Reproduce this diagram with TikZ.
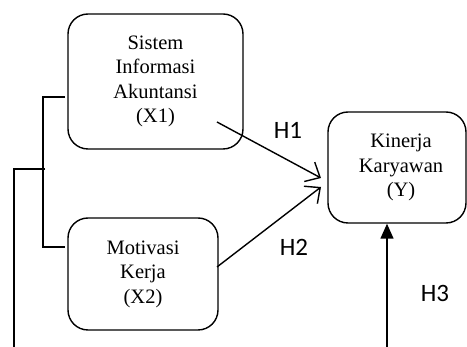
\documentclass[tikz,border=0pt]{standalone}
\usepackage{fontspec}
\setmainfont{Liberation Serif}
\newfontfamily\hfont{Carlito}
\usetikzlibrary{arrows.meta}
\begin{document}
\begin{tikzpicture}[x=1pt,y=-1pt,line width=1.4pt,
  varbox/.style={draw,rounded corners=20pt,align=center,inner sep=0pt,
    font=\fontsize{20.5}{24.5}\selectfont},
  hlabel/.style={font=\hfont\fontsize{25}{28}\selectfont},
  link/.style={-{Straight Barb[length=12pt,width=22pt,line width=1.4pt]}},
  solid arrow/.style={-{Triangle[length=15pt,width=13pt]}}]
\useasboundingbox (0,0) rectangle (467,347);
\node[varbox,minimum width=175pt,minimum height=135pt] (x1) at (155.5,81.5)
  {Sistem\\Informasi\\Akuntansi\\(X1)};
\node[varbox,minimum width=150pt,minimum height=112pt] (x2) at (143,274)
  {Motivasi\\Kerja\\(X2)};
\node[varbox,minimum width=138pt,minimum height=111pt] (y) at (397,167.5)
  {\hspace*{8pt}Kinerja\\\hspace*{8pt}Karyawan\\\hspace*{8pt}(Y)};
% bracket
\coordinate (b1) at (65,97);
\coordinate (b2) at (43,97);
\coordinate (b3) at (43,247);
\coordinate (b4) at (65,247);
\draw (b1) -- (b2) -- (b3) -- (b4);
\coordinate (c1) at (45,169);
\coordinate (c2) at (14,169);
\coordinate (c3) at (14,347);
\draw (c1) -- (c2) -- (c3);
% arrows
\coordinate (h1s) at (217,122);
\coordinate (h1e) at (321,178);
\coordinate (h2s) at (217,267);
\coordinate (h2e) at (321,187);
\coordinate (h3s) at (387,347);
\draw[link] (h1s) -- (h1e);
\draw[link] (h2s) -- (h2e);
\draw[solid arrow] (h3s) -- (y.south -| h3s);
\node[hlabel] (l1) at (288,130) {H1};
\node[hlabel] (l2) at (294,247) {H2};
\node[hlabel] (l3) at (435,293) {H3};
\end{tikzpicture}
\end{document}
